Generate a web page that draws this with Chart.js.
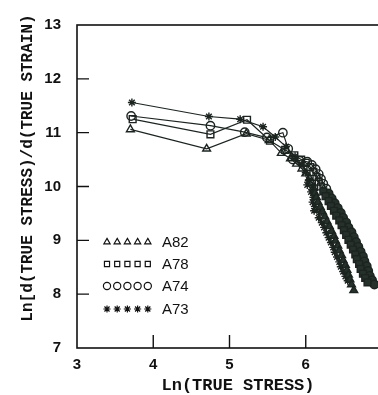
<!DOCTYPE html>
<html>
<head>
<meta charset="utf-8">
<script src="https://cdn.jsdelivr.net/npm/chart.js@4.4.1/dist/chart.umd.min.js"></script>
<style>
  html, body { margin: 0; padding: 0; background: #fff; overflow: hidden; width: 378px; height: 395px; }
  #wrap { width: 400px; height: 395px; }
</style>
</head>
<body>
<div id="wrap"><canvas id="chart" width="400" height="395"></canvas></div>
<script>
// Ln(true stress) / Ln(d stress / d strain)
const a82X = [3.70, 4.70, 5.22, 5.52, 5.68, 5.80, 5.88, 5.95, 6.00, 6.05, 6.08, 6.10, 6.12, 6.14, 6.16, 6.19, 6.22, 6.25, 6.28, 6.31, 6.34, 6.37, 6.39, 6.42, 6.44, 6.47, 6.49, 6.52, 6.54, 6.56, 6.58, 6.60, 6.63];
const a82Y = [11.06, 10.70, 10.98, 10.86, 10.62, 10.52, 10.42, 10.33, 10.24, 10.15, 10.06, 9.97, 9.88, 9.80, 9.71, 9.62, 9.53, 9.44, 9.35, 9.26, 9.17, 9.08, 8.99, 8.90, 8.81, 8.72, 8.63, 8.54, 8.45, 8.36, 8.27, 8.18, 8.07];

const a78X = [3.73, 4.75, 5.23, 5.53, 5.73, 5.85, 5.94, 6.00, 6.06, 6.10, 6.14, 6.17, 6.20, 6.23, 6.26, 6.30, 6.33, 6.37, 6.40, 6.44, 6.47, 6.50, 6.53, 6.56, 6.59, 6.62, 6.65, 6.67, 6.70, 6.72, 6.75, 6.78, 6.81];
const a78Y = [11.25, 10.97, 11.24, 10.85, 10.68, 10.58, 10.50, 10.44, 10.36, 10.27, 10.18, 10.09, 10.00, 9.91, 9.82, 9.73, 9.64, 9.55, 9.46, 9.37, 9.28, 9.19, 9.10, 9.01, 8.92, 8.83, 8.74, 8.65, 8.56, 8.47, 8.38, 8.30, 8.22];

const a74X = [3.71, 4.75, 5.20, 5.49, 5.70, 5.77, 5.83, 5.92, 6.02, 6.08, 6.13, 6.17, 6.20, 6.23, 6.27, 6.30, 6.34, 6.38, 6.42, 6.46, 6.49, 6.53, 6.56, 6.60, 6.63, 6.66, 6.69, 6.72, 6.75, 6.77, 6.80, 6.82, 6.84, 6.87, 6.90];
const a74Y = [11.31, 11.13, 11.01, 10.91, 11.00, 10.70, 10.50, 10.48, 10.46, 10.40, 10.32, 10.23, 10.14, 10.05, 9.96, 9.87, 9.78, 9.69, 9.60, 9.51, 9.42, 9.33, 9.24, 9.15, 9.06, 8.97, 8.88, 8.79, 8.70, 8.61, 8.52, 8.43, 8.34, 8.26, 8.18];

const a73X = [3.72, 4.73, 5.14, 5.44, 5.60, 5.74, 5.86, 5.95, 6.00, 6.04, 6.02, 6.09, 6.07, 6.10, 6.09, 6.12, 6.11, 6.18, 6.17, 6.21, 6.24, 6.27, 6.30, 6.33, 6.36, 6.38, 6.41, 6.44, 6.46, 6.49, 6.52, 6.55];
const a73Y = [11.56, 11.30, 11.25, 11.11, 10.92, 10.74, 10.56, 10.40, 10.26, 10.12, 10.03, 10.01, 9.90, 9.80, 9.71, 9.63, 9.55, 9.52, 9.42, 9.33, 9.24, 9.14, 9.05, 8.96, 8.87, 8.78, 8.69, 8.60, 8.51, 8.42, 8.33, 8.25];

const xTicks = [3, 4, 5, 6, 7];
const yTicks = [7, 8, 9, 10, 11, 12, 13];

const INK = '#1c2420';

function pts(xs, ys) {
    return xs.map((x, i) => ({ x: x, y: ys[i] }));
}

function series(label, xs, ys, style, radius) {
    return {
        label: label,
        data: pts(xs, ys),
        showLine: true,
        borderColor: INK,
        borderWidth: 1.2,
        pointStyle: style,
        pointRadius: radius,
        pointBorderColor: INK,
        pointBorderWidth: 1.4,
        // the crowded lower part of each curve prints as a dark smear
        pointBackgroundColor: c => (c.raw && c.raw.y < 9.95 ? '#27312c' : 'rgba(255,255,255,0)')
    };
}

// frame box plus inward tick marks
const framePlugin = {
    id: 'frame',
    afterDraw(chart) {
        const ctx = chart.ctx;
        const a = chart.chartArea;
        const xs = chart.scales.x;
        const ys = chart.scales.y;
        ctx.save();
        ctx.strokeStyle = '#111';
        ctx.lineWidth = 1.6;
        ctx.strokeRect(a.left, a.top, a.right - a.left, a.bottom - a.top);
        ctx.lineWidth = 1.4;
        ctx.beginPath();
        xTicks.slice(1, -1).forEach(v => {
            const px = xs.getPixelForValue(v);
            ctx.moveTo(px, a.bottom);
            ctx.lineTo(px, a.bottom - 13);
        });
        yTicks.slice(1, -1).forEach(v => {
            const py = ys.getPixelForValue(v);
            ctx.moveTo(a.left, py);
            ctx.lineTo(a.left + 12, py);
        });
        ctx.stroke();

        // axis titles
        ctx.fillStyle = '#111';
        ctx.textAlign = 'center';
        ctx.textBaseline = 'middle';
        ctx.font = 'bold 17px "Liberation Mono", monospace';
        ctx.fillText('Ln(TRUE STRESS)', 238, 386);
        ctx.translate(28, 168);
        ctx.rotate(-Math.PI / 2);
        ctx.font = 'bold 16px "Liberation Mono", monospace';
        ctx.fillText('Ln[d(TRUE STRESS)/d(TRUE STRAIN)', 0, 0);
        ctx.restore();
    }
};

// legend inside the plot: five markers then the name
const legendPlugin = {
    id: 'inlegend',
    afterDatasetsDraw(chart) {
        const ctx = chart.ctx;
        const rows = [242, 264, 286, 309];
        ctx.save();
        chart.data.datasets.forEach((ds, r) => {
            ctx.strokeStyle = '#111';
            ctx.fillStyle = 'rgba(255,255,255,0)';
            ctx.lineWidth = 1.2;
            for (let k = 0; k < 5; k++) {
                Chart.helpers.drawPoint(ctx, {
                    pointStyle: ds.pointStyle,
                    radius: 3.6,
                    borderWidth: 1.2,
                    rotation: 0
                }, 107 + k * 10.2, rows[r]);
            }
            ctx.fillStyle = '#111';
            ctx.font = '15px "Liberation Sans", Arial, sans-serif';
            ctx.textAlign = 'left';
            ctx.textBaseline = 'middle';
            ctx.fillText(ds.label, 162, rows[r] + 1);
        });
        ctx.restore();
    }
};

new Chart(document.getElementById('chart'), {
    type: 'scatter',
    data: {
        datasets: [
            series('A82', a82X, a82Y, 'triangle', 4.5),
            series('A78', a78X, a78Y, 'rect', 4.8),
            series('A74', a74X, a74Y, 'circle', 4.2),
            series('A73', a73X, a73Y, 'star', 4)
        ]
    },
    options: {
        responsive: false,
        animation: false,
        layout: { padding: { top: 12, right: 18, left: 0, bottom: 0 } },
        plugins: {
            legend: { display: false },
            tooltip: { enabled: false }
        },
        scales: {
            x: {
                type: 'linear',
                min: 3,
                max: 7,
                afterFit: s => { s.height = 47; },
                afterBuildTicks: s => { s.ticks = xTicks.map(v => ({ value: v })); },
                grid: { display: false, drawTicks: false },
                border: { display: false },
                ticks: {
                    padding: 8,
                    color: '#111',
                    font: { family: '"Liberation Sans", Arial, sans-serif', size: 15, weight: 'bold' }
                }
            },
            y: {
                type: 'linear',
                min: 7,
                max: 13,
                afterFit: s => { s.width = 77; },
                afterBuildTicks: s => { s.ticks = yTicks.map(v => ({ value: v })); },
                grid: { display: false, drawTicks: false },
                border: { display: false },
                ticks: {
                    padding: 16,
                    color: '#111',
                    font: { family: '"Liberation Sans", Arial, sans-serif', size: 15, weight: 'bold' }
                }
            }
        }
    },
    plugins: [framePlugin, legendPlugin]
});
</script>
</body>
</html>
